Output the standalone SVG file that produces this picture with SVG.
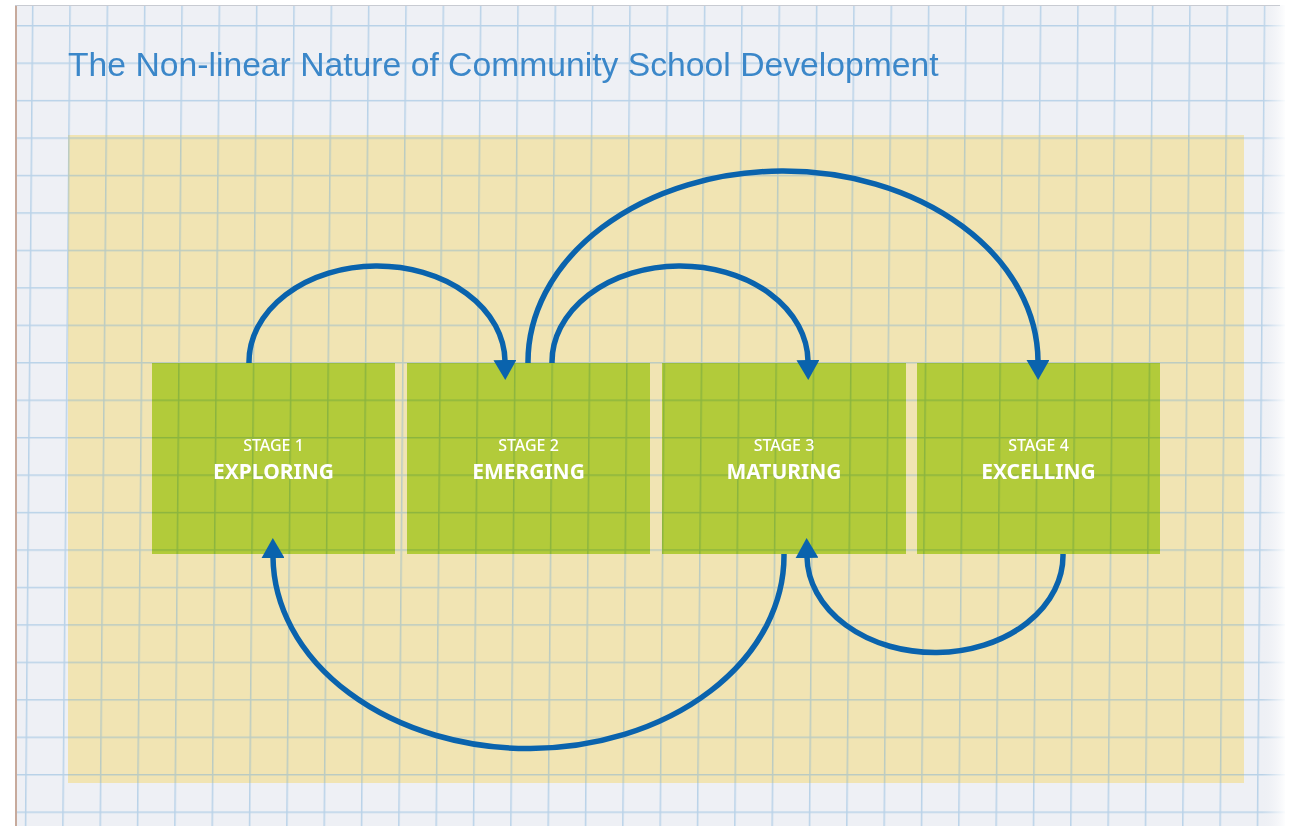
<svg xmlns="http://www.w3.org/2000/svg" width="1297" height="828" viewBox="0 0 1297 828">
  <style>
    .box { fill: #bde352; mix-blend-mode: multiply; }
    .stage { font-family: "Noto Sans", "Open Sans", sans-serif; font-size: 16px; font-weight: 500; fill: #ffffff; text-anchor: middle; }
    .name { font-family: "Noto Sans", "Open Sans", sans-serif; font-size: 21px; font-weight: 700; fill: #ffffff; text-anchor: middle; }
    .arrow { fill: none; stroke: #0a63ad; stroke-width: 5.5; marker-end: url(#head); }
    .title { font-family: "Liberation Sans", Arial, sans-serif; font-size: 33.7px; fill: #3b87c9; }
  </style>
  <defs>
    <pattern id="grid" patternUnits="userSpaceOnUse" x="32" y="25" width="37.33" height="37.45" patternTransform="skewX(-0.5)">
      <path d="M0.75,0 V37.45 M0,0.75 H37.33" fill="none" stroke="#6fa9d6" stroke-opacity="0.42" stroke-width="1.5"/>
    </pattern>
    <marker id="head" viewBox="0 0 20 23" refX="1" refY="11.5" markerWidth="20" markerHeight="23" markerUnits="userSpaceOnUse" orient="auto">
      <path d="M0,0 L20,11.5 L0,23 Z" fill="#0a63ad"/>
    </marker>
    <linearGradient id="rightshade" x1="0" y1="0" x2="1" y2="0">
      <stop offset="0" stop-color="#eef0f5" stop-opacity="0"/>
      <stop offset="1" stop-color="#ffffff" stop-opacity="0.9"/>
    </linearGradient>
  </defs>

  <rect x="0" y="0" width="1297" height="828" fill="#ffffff"/>
  <g id="paper">
    <rect x="15" y="5" width="1270" height="821" fill="#eef0f5"/>
    <rect x="68" y="135" width="1176" height="648" fill="#f1e4b3"/>
    <rect x="15" y="5" width="1270" height="821" fill="url(#grid)"/>
    <rect x="1262" y="5" width="23" height="821" fill="url(#rightshade)"/>
    <line x1="16" y1="6" x2="16" y2="826" stroke="#c7aa9c" stroke-width="2"/>
    <line x1="15" y1="5.5" x2="1280" y2="5.5" stroke="#c8cbd2" stroke-width="1"/>
  </g>

  <g id="title">
    <text class="title" x="68" y="76">The Non-linear Nature of Community School Development</text>
  </g>

  <g id="stage1">
    <rect class="box" x="152" y="363" width="243" height="191"/>
    <text class="stage" x="273.5" y="451">STAGE 1</text>
    <text class="name" x="273.5" y="479">EXPLORING</text>
  </g>
  <g id="stage2">
    <rect class="box" x="407" y="363" width="243" height="191"/>
    <text class="stage" x="528.5" y="451">STAGE 2</text>
    <text class="name" x="528.5" y="479">EMERGING</text>
  </g>
  <g id="stage3">
    <rect class="box" x="662" y="363" width="244" height="191"/>
    <text class="stage" x="784" y="451">STAGE 3</text>
    <text class="name" x="784" y="479">MATURING</text>
  </g>
  <g id="stage4">
    <rect class="box" x="917" y="363" width="243" height="191"/>
    <text class="stage" x="1038.5" y="451">STAGE 4</text>
    <text class="name" x="1038.5" y="479">EXCELLING</text>
  </g>

  <g id="connectors">
    <path class="arrow" d="M249,363 A128,96 0 0 1 505,361"/>
    <path class="arrow" d="M528,363 A255,191 0 0 1 1038,361"/>
    <path class="arrow" d="M552,363 A128,96 0 0 1 808,361"/>
    <path class="arrow" d="M784,554 A255.5,193 0 0 1 273,557"/>
    <path class="arrow" d="M1063,554 A128,97 0 0 1 807,557"/>
  </g>
</svg>
